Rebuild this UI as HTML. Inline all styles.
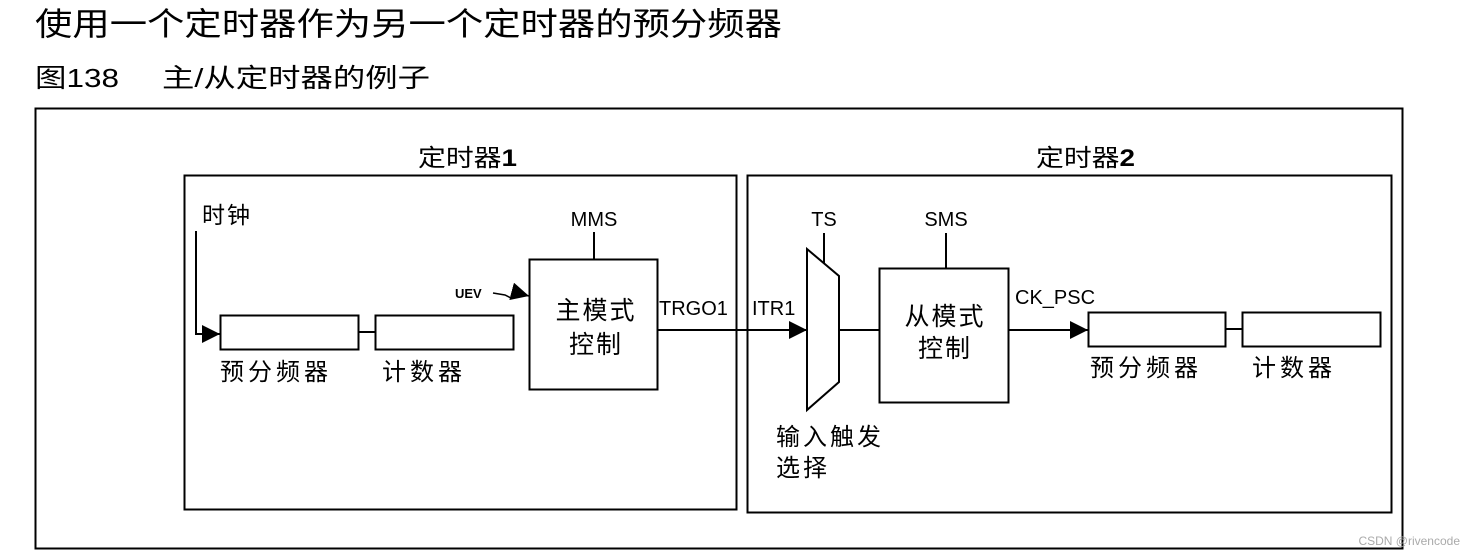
<!DOCTYPE html>
<html><head><meta charset="utf-8"><style>
html,body{margin:0;padding:0;background:#fff;}
svg{display:block;}
text{font-family:"Liberation Sans","Noto Sans CJK SC",sans-serif;fill:#000;}
</style></head><body>
<svg width="1473" height="556" viewBox="0 0 1473 556" xmlns="http://www.w3.org/2000/svg">
<defs>
<marker id="ar" viewBox="0 0 10 10" refX="10" refY="5" markerWidth="18" markerHeight="18" markerUnits="userSpaceOnUse" orient="auto"><path d="M0,0 L10,5 L0,10 z" fill="#000"/></marker>
</defs>
<text x="35" y="35" font-size="32" textLength="747" lengthAdjust="spacingAndGlyphs">使用一个定时器作为另一个定时器的预分频器</text>
<text x="35" y="87" font-size="26" textLength="84" lengthAdjust="spacingAndGlyphs">图138</text>
<text x="162" y="87" font-size="26" textLength="268" lengthAdjust="spacingAndGlyphs">主/从定时器的例子</text>

<rect x="35.5" y="108.5" width="1367" height="440" fill="none" stroke="#000" stroke-width="2"/>
<rect x="184.5" y="175.5" width="552" height="334" fill="none" stroke="#000" stroke-width="2"/>
<rect x="747.5" y="175.5" width="644" height="337" fill="none" stroke="#000" stroke-width="2"/>
<text x="418" y="166" font-size="24" textLength="99" lengthAdjust="spacingAndGlyphs">定时器<tspan font-weight="bold">1</tspan></text>
<text x="1036" y="166" font-size="24" textLength="99" lengthAdjust="spacingAndGlyphs">定时器<tspan font-weight="bold">2</tspan></text>

<!-- timer 1 -->
<text x="202" y="223" font-size="23" letter-spacing="2">时钟</text>
<polyline points="196,231 196,334 220,334" fill="none" stroke="#000" stroke-width="2" marker-end="url(#ar)"/>
<rect x="220.5" y="315.5" width="138" height="34" fill="none" stroke="#000" stroke-width="2"/>
<line x1="358" y1="332" x2="375" y2="332" stroke="#000" stroke-width="2"/>
<rect x="375.5" y="315.5" width="138" height="34" fill="none" stroke="#000" stroke-width="2"/>
<text x="220" y="380" font-size="24" letter-spacing="4">预分频器</text>
<text x="382" y="380" font-size="24" letter-spacing="4">计数器</text>
<text x="455" y="298" font-size="13" font-weight="bold">UEV</text>
<polyline points="493,293 505,295 511,298 514,292 529,296" fill="none" stroke="#000" stroke-width="1.5" marker-end="url(#ar)"/>
<rect x="529.5" y="259.5" width="128" height="130" fill="none" stroke="#000" stroke-width="2"/>
<text x="594" y="226" font-size="20" text-anchor="middle">MMS</text>
<line x1="594" y1="232" x2="594" y2="259" stroke="#000" stroke-width="2"/>
<text x="596" y="319" font-size="25" text-anchor="middle" letter-spacing="2">主模式</text>
<text x="596" y="353" font-size="25" text-anchor="middle" letter-spacing="2">控制</text>
<text x="659" y="315" font-size="20">TRGO1</text>
<line x1="657" y1="330" x2="807" y2="330" stroke="#000" stroke-width="2" marker-end="url(#ar)"/>

<!-- timer 2 -->
<text x="752" y="315" font-size="20">ITR1</text>
<polygon points="807,249 839,276 839,382 807,410" fill="none" stroke="#000" stroke-width="2"/>
<text x="824" y="226" font-size="20" text-anchor="middle">TS</text>
<line x1="824" y1="233" x2="824" y2="263" stroke="#000" stroke-width="2"/>
<text x="776" y="445" font-size="24" letter-spacing="3">输入触发</text>
<text x="776" y="476" font-size="24" letter-spacing="3">选择</text>
<line x1="839" y1="330" x2="879" y2="330" stroke="#000" stroke-width="2"/>
<rect x="879.5" y="268.5" width="129" height="134" fill="none" stroke="#000" stroke-width="2"/>
<text x="946" y="226" font-size="20" text-anchor="middle">SMS</text>
<line x1="946" y1="233" x2="946" y2="268" stroke="#000" stroke-width="2"/>
<text x="945" y="325" font-size="25" text-anchor="middle" letter-spacing="2">从模式</text>
<text x="945" y="357" font-size="25" text-anchor="middle" letter-spacing="2">控制</text>
<text x="1015" y="304" font-size="20">CK_PSC</text>
<line x1="1008" y1="330" x2="1088" y2="330" stroke="#000" stroke-width="2" marker-end="url(#ar)"/>
<rect x="1088.5" y="312.5" width="137" height="34" fill="none" stroke="#000" stroke-width="2"/>
<line x1="1225" y1="329" x2="1242" y2="329" stroke="#000" stroke-width="2"/>
<rect x="1242.5" y="312.5" width="138" height="34" fill="none" stroke="#000" stroke-width="2"/>
<text x="1090" y="376" font-size="24" letter-spacing="4">预分频器</text>
<text x="1252" y="376" font-size="24" letter-spacing="4">计数器</text>

<text x="1460" y="545" font-size="12" text-anchor="end" style="fill:#aaa">CSDN @rivencode</text>
</svg>
</body></html>
